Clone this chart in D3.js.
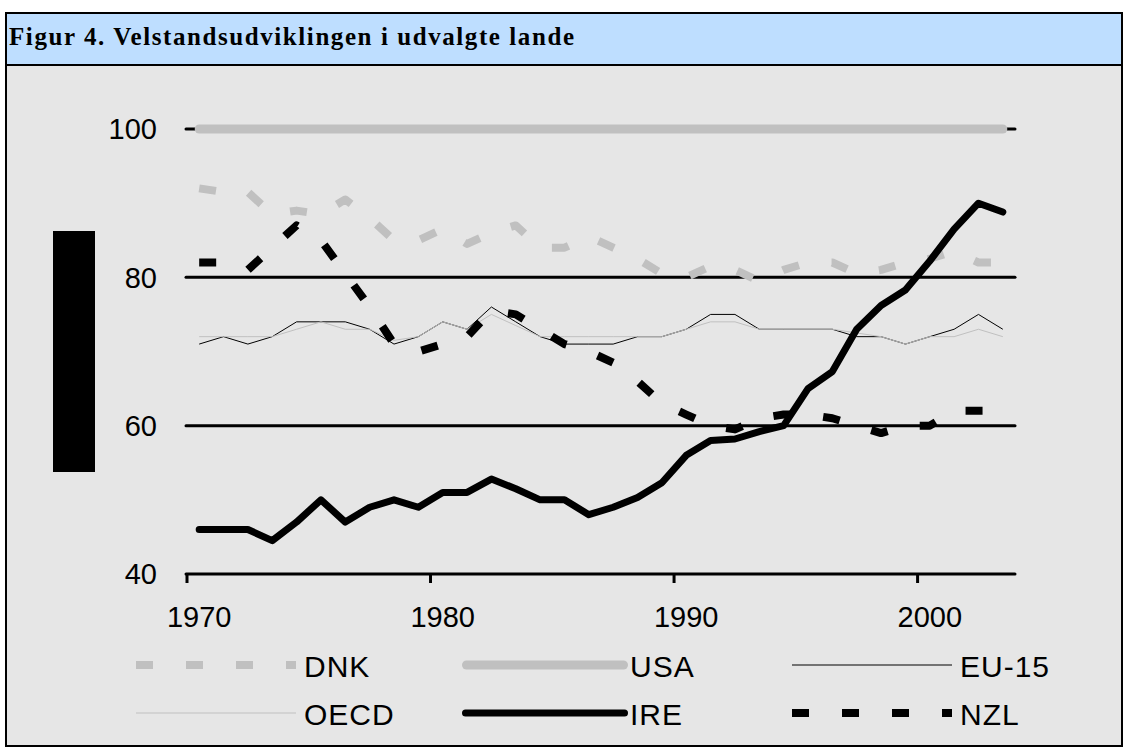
<!DOCTYPE html>
<html>
<head>
<meta charset="utf-8">
<script src="https://cdn.jsdelivr.net/npm/d3@7/dist/d3.min.js"></script>
<style>
  body { margin: 0; background: #fff; }
  svg text { font-family: "Liberation Sans", Arial, sans-serif; fill: #000; }
</style>
</head>
<body>
<svg id="chart" width="1125" height="749"></svg>
<script>
// data (index, USA = 100)
var years = [1970, 1971, 1972, 1973, 1974, 1975, 1976, 1977, 1978, 1979,
             1980, 1981, 1982, 1983, 1984, 1985, 1986, 1987, 1988, 1989,
             1990, 1991, 1992, 1993, 1994, 1995, 1996, 1997, 1998, 1999,
             2000, 2001, 2002, 2003];

var dnk  = [92, 91.5, 91.5, 88.5, 89, 88.5, 90.5, 88, 85, 85,
            86.5, 84.5, 86, 87, 84, 84, 85.5, 84, 82.5, 80.5,
            80, 81.5, 81, 79.5, 81, 82, 82, 80.5, 81, 82,
            82.5, 83.5, 82, 82];
var usa  = [100, 100, 100, 100, 100, 100, 100, 100, 100, 100,
            100, 100, 100, 100, 100, 100, 100, 100, 100, 100,
            100, 100, 100, 100, 100, 100, 100, 100, 100, 100,
            100, 100, 100, 100];
var eu15 = [71, 72, 71, 72, 74, 74, 74, 73, 71, 72,
            74, 73, 76, 74, 72, 71, 71, 71, 72, 72,
            73, 75, 75, 73, 73, 73, 73, 72, 72, 71,
            72, 73, 75, 73];
var oecd = [72, 72, 72, 72, 73, 74, 73, 73, 71.5, 72,
            74, 73, 75, 73.5, 72, 72, 72, 72, 72, 72,
            73, 74, 74, 73, 73, 73, 73, 72.5, 72, 71,
            72, 72, 73, 72];
var ire  = [46, 46, 46, 44.5, 47, 50, 47, 49, 50, 49,
            51, 51, 52.8, 51.5, 50, 50, 48, 49, 50.3, 52.3,
            56, 58, 58.2, 59.2, 60, 65, 67.3, 73, 76.2, 78.3,
            82.2, 86.5, 90, 88.8];
var nzl  = [82, 82, 81, 84, 87, 85, 80.5, 76, 71, 70,
            71, 72, 75.5, 75, 73, 71, 70, 68.5, 66, 63,
            61.5, 60, 59.5, 61, 61.5, 61.5, 61, 60, 59, 60,
            60, 62, 62, 62];

var yTicks = [40, 60, 80, 100];
var xTicks = [1970, 1980, 1990, 2000];
var title = 'Figur 4. Velstandsudviklingen i udvalgte lande';

// drawing order follows the legend order
var series = [
  { name: 'DNK',   values: dnk,  color: '#c0c0c0', width: 8, dash: '17,33', cap: 'butt' },
  { name: 'USA',   values: usa,  color: '#c0c0c0', width: 9, dash: null,    cap: 'round' },
  { name: 'EU-15', values: eu15, color: '#000000', width: 1, dash: null,    cap: 'butt' },
  { name: 'OECD',  values: oecd, color: '#c0c0c0', width: 1, dash: null,    cap: 'butt' },
  { name: 'IRE',   values: ire,  color: '#000000', width: 7, dash: null,    cap: 'round' },
  { name: 'NZL',   values: nzl,  color: '#000000', width: 8, dash: '17,33', cap: 'butt' }
];

var svg = d3.select('#chart');

// frame, title band and grey body
svg.append('rect')
  .attr('x', 6).attr('y', 13)
  .attr('width', 1116).attr('height', 733)
  .style('fill', '#e6e6e6')
  .style('stroke', '#000')
  .style('stroke-width', 2);

svg.append('rect')
  .attr('x', 6).attr('y', 13)
  .attr('width', 1116).attr('height', 52)
  .style('fill', '#bedeff')
  .style('stroke', '#000')
  .style('stroke-width', 2);

svg.append('text')
  .attr('x', 9).attr('y', 45)
  .attr('textLength', 565)
  .attr('lengthAdjust', 'spacing')
  .style('font-family', '"Liberation Serif", "Times New Roman", serif')
  .style('font-weight', 'bold')
  .style('font-size', '25px')
  .text(title);

// black block where the y axis title sits
svg.append('rect')
  .attr('x', 53).attr('y', 231)
  .attr('width', 42).attr('height', 241)
  .style('fill', '#000');

// scales
var x = d3.scaleBand()
  .domain(years)
  .range([187, 1015])
  .padding(0);

var y = d3.scaleLinear()
  .domain([40, 100])
  .range([574, 129]);

function cx(i) {
  return x(years[i]) + x.bandwidth() / 2;
}

// horizontal gridlines (the 100 line sits under the USA series)
svg.append('g')
  .selectAll('line')
  .data(yTicks.filter(function(v) { return v > 40; }))
  .enter()
  .append('line')
  .attr('x1', 186).attr('x2', 1015)
  .attr('y1', function(d) { return y(d); })
  .attr('y2', function(d) { return y(d); })
  .style('stroke', '#000')
  .style('stroke-width', 3)
  .style('stroke-linecap', 'round');

// y axis labels
var yAxis = svg.append('g')
  .attr('transform', 'translate(187,0)')
  .call(d3.axisLeft(y).tickValues(yTicks).tickSize(0).tickPadding(30));
yAxis.select('.domain').remove();
yAxis.selectAll('text')
  .style('font-size', '29px')
  .style('font-family', '"Liberation Sans", Arial, sans-serif')
  .attr('dy', '0.34em');

// x axis: line, ticks at category boundaries, labels at category centres
var xAxis = svg.append('g')
  .attr('transform', 'translate(0,574)')
  .call(d3.axisBottom(x).tickValues(xTicks).tickSize(0).tickPadding(32));
xAxis.select('.domain').remove();
xAxis.selectAll('text')
  .style('font-size', '29px')
  .style('font-family', '"Liberation Sans", Arial, sans-serif');

svg.append('line')
  .attr('x1', 186).attr('x2', 1015)
  .attr('y1', y(40)).attr('y2', y(40))
  .style('stroke', '#000')
  .style('stroke-width', 3)
  .style('stroke-linecap', 'round');

svg.append('g')
  .selectAll('line')
  .data(xTicks)
  .enter()
  .append('line')
  .attr('x1', function(d) { return x(d); })
  .attr('x2', function(d) { return x(d); })
  .attr('y1', y(40))
  .attr('y2', y(40) + 9)
  .style('stroke', '#000')
  .style('stroke-width', 3);

// series lines
var line = d3.line()
  .x(function(d, i) { return cx(i); })
  .y(function(d) { return y(d); });

svg.append('g')
  .selectAll('path')
  .data(series)
  .enter()
  .append('path')
  .attr('d', function(d) { return line(d.values); })
  .style('fill', 'none')
  .style('stroke', function(d) { return d.color; })
  .style('stroke-width', function(d) { return d.width; })
  .style('stroke-dasharray', function(d) { return d.dash; })
  .style('stroke-linecap', function(d) { return d.cap; })
  .style('stroke-linejoin', 'round');

// legend, two rows of three
var legX = [136, 462, 792];
var legY = [665, 713];

var leg = svg.append('g')
  .selectAll('g')
  .data(series)
  .enter()
  .append('g')
  .attr('transform', function(d, i) {
    return 'translate(' + legX[i % 3] + ',' + legY[Math.floor(i / 3)] + ')';
  });

leg.append('line')
  .attr('x1', function(d) { return d.cap === 'round' ? d.width / 2 : 0; })
  .attr('x2', function(d) { return d.cap === 'round' ? 166 - d.width / 2 : 160; })
  .attr('y1', 0).attr('y2', 0)
  .style('stroke', function(d) { return d.color; })
  .style('stroke-width', function(d) { return d.width; })
  .style('stroke-dasharray', function(d) { return d.dash; })
  .style('stroke-linecap', function(d) { return d.cap; });

leg.append('text')
  .attr('x', 168)
  .attr('y', 12)
  .style('font-size', '30px')
  .style('letter-spacing', '1px')
  .text(function(d) { return d.name; });
</script>
</body>
</html>
